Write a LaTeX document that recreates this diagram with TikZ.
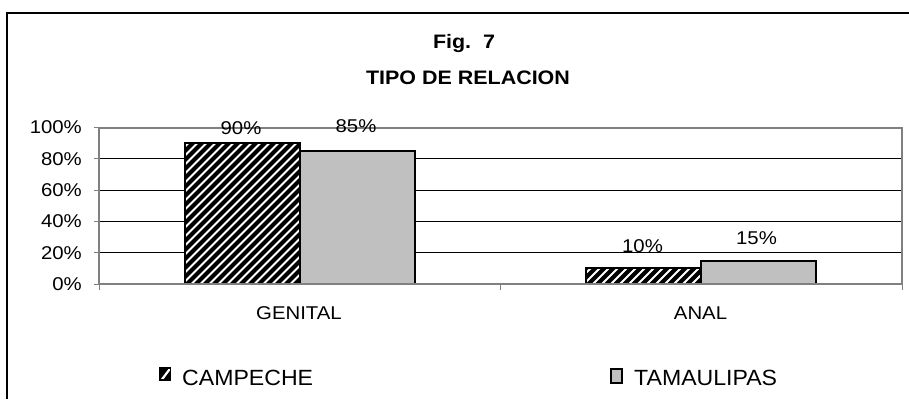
\documentclass[tikz,border=0pt]{standalone}
\usepackage{fontspec}
\setmainfont{Liberation Sans}
\newfontfamily\axf[FakeStretch=1.1]{Liberation Sans}
\newfontfamily\ttlf[FakeStretch=1.1]{Liberation Sans}
\newfontfamily\lgf[FakeStretch=1.05]{Liberation Sans}
\definecolor{barg}{RGB}{192,192,192}
\definecolor{frameg}{RGB}{128,128,128}
\tikzset{
  axlab/.style={font=\axf\fontsize{18.5}{20}\selectfont, inner sep=0pt},
  ttl/.style={font=\ttlf\bfseries\fontsize{19.5}{21}\selectfont, inner sep=0pt},
  lgtext/.style={font=\lgf\fontsize{22}{24}\selectfont, inner sep=0pt, anchor=west},
  barbox/.style={draw=black, line width=2pt},
  gridl/.style={draw=black, line width=0.8pt},
  plotframe/.style={draw=frameg, line width=2pt},
  outer/.style={draw=black, line width=1.5pt},
  tickl/.style={draw=frameg, line width=1pt},
}
\newcommand{\hatchrect}[4]{% x0 y0 x1 y1 (y downward)
  \begin{scope}
    \clip (#1,#2) rectangle (#3,#4);
    \fill[black] (#1,#2) rectangle (#3,#4);
    \foreach \k in {-200,-191,...,200}{
      \draw[white, line width=2pt] ({#1+\k},#4) -- ++(200,-200);
    }
  \end{scope}
}
\begin{document}
\begin{tikzpicture}[x=1pt,y=-1pt]
\useasboundingbox (0,0) rectangle (909,399);
\fill[white] (0,0) rectangle (909,399);
% outer chart border
\draw[outer] (7,399) -- (7,13) -- (909,13);
% title
\node[ttl] (fig) at (464,43) {Fig.\ \ 7};
\node[ttl] (tit) at (468,78) {TIPO DE RELACION};
% gridlines
\foreach \v/\n in {20/g20,40/g40,60/g60,80/g80}{
  \coordinate (\n a) at (99,{284-1.565*\v});
  \coordinate (\n b) at (902,{284-1.565*\v});
  \draw[gridl] (\n a) -- (\n b);
}
% bars GENITAL
\hatchrect{184.5}{143.2}{299.5}{284}
\draw[barbox] (184.5,143.2) rectangle (299.5,284);
\fill[barg] (299.5,151) rectangle (414.5,284);
\draw[barbox] (299.5,151) rectangle (414.5,284);
% bars ANAL
\hatchrect{586}{268.4}{701}{284}
\draw[barbox] (586,268.4) rectangle (701,284);
\fill[barg] (701,260.5) rectangle (816,284);
\draw[barbox] (701,260.5) rectangle (816,284);
% plot frame
\draw[plotframe] (99,127.5) rectangle (902,284);
% ticks
\foreach \v in {0,20,40,60,80,100}{
  \draw[tickl] (94,{284-1.565*\v}) -- (99,{284-1.565*\v});
}
\foreach \x in {99,500.5,902}{
  \draw[tickl] (\x,284) -- (\x,290);
}
% y labels
\foreach \v/\n in {0/y0,20/y20,40/y40,60/y60,80/y80,100/y100}{
  \node[axlab, anchor=east] (\n) at (82,{284-1.565*\v}) {\v\%};
}
% value labels
\node[axlab] (l90) at (241,128) {90\%};
\node[axlab] (l85) at (356,126) {85\%};
\node[axlab] (l10) at (642.5,246) {10\%};
\node[axlab] (l15) at (756.5,238) {15\%};
% category labels
\node[axlab] (cg) at (299,313.5) {GENITAL};
\node[axlab] (ca) at (700.5,313.5) {ANAL};
% legend
\begin{scope}
  \clip (160,368) rectangle (170.5,380);
  \fill[black] (160,368) rectangle (170.5,380);
  \draw[white, line width=2.2pt] (160,382) -- (172,366);
\end{scope}
\draw[black, line width=1.5pt] (160,368) rectangle (170.5,380);
\node[lgtext] (lc) at (182,378) {CAMPECHE};
\fill[barg] (611,369) rectangle (622,383);
\draw[black, line width=1.8pt] (611,369) rectangle (622,383);
\node[lgtext] (lt) at (634,378) {TAMAULIPAS};
\end{tikzpicture}
\end{document}
